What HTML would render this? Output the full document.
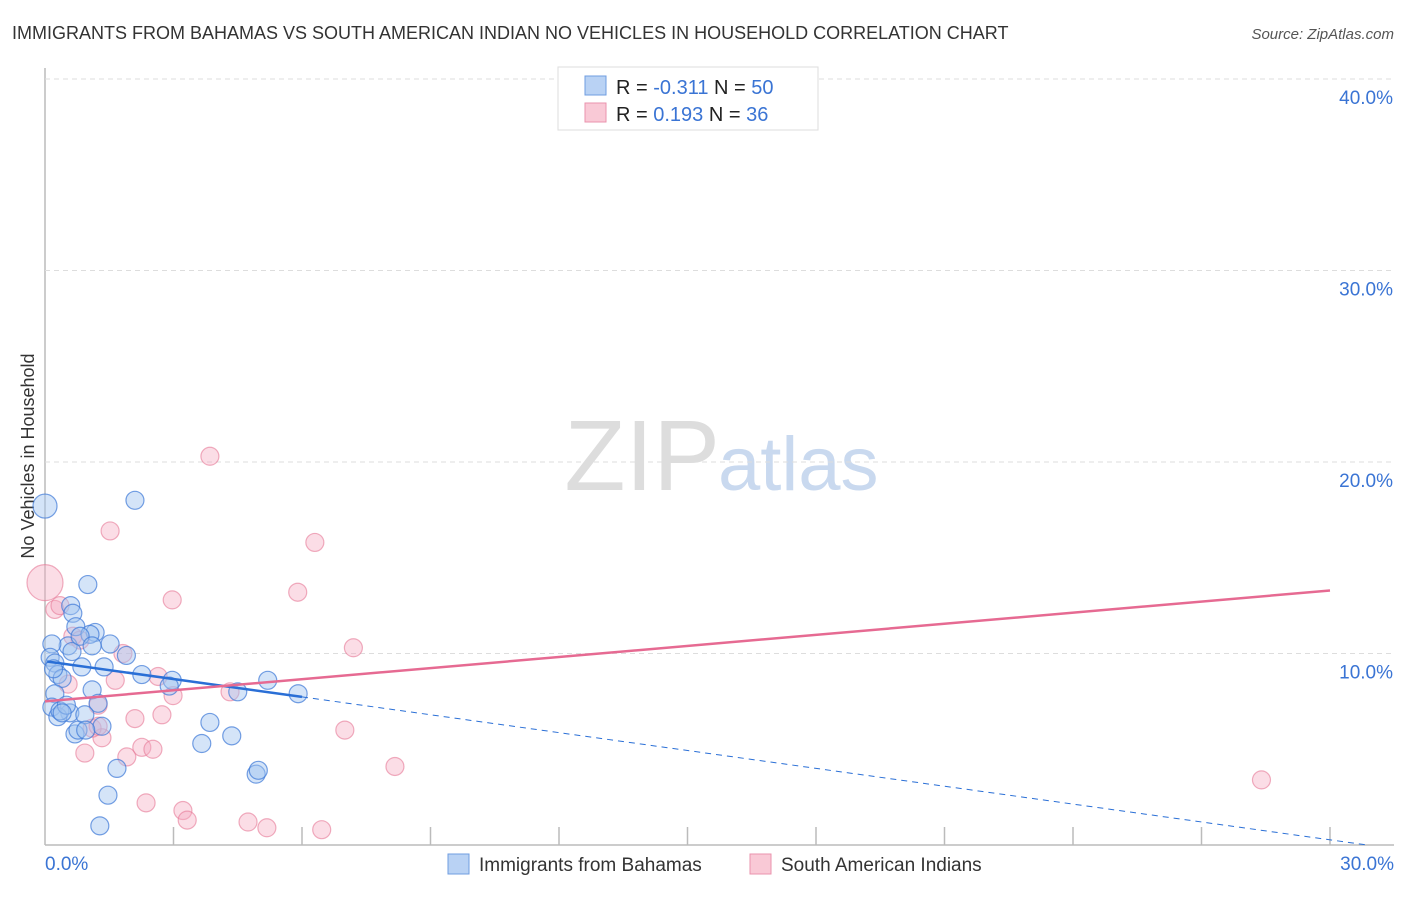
<!DOCTYPE html>
<html><head><meta charset="utf-8"><style>
body{margin:0;background:#fff;font-family:"Liberation Sans",sans-serif}
svg text{font-family:"Liberation Sans",sans-serif}
</style></head><body>
<svg id="c" width="1406" height="892" xmlns="http://www.w3.org/2000/svg">
<text x="12" y="39" font-size="18" fill="#333">IMMIGRANTS FROM BAHAMAS VS SOUTH AMERICAN INDIAN NO VEHICLES IN HOUSEHOLD CORRELATION CHART</text>
<text x="1394" y="39" font-size="15" fill="#555" font-style="italic" text-anchor="end">Source: ZipAtlas.com</text>
<text x="720" y="490" font-size="100" fill="#ddd" text-anchor="end" font-family="Liberation Serif">ZIP</text>
<text x="718" y="490" font-size="76" fill="#c9d9ef">atlas</text>
<text transform="translate(34,456) rotate(-90)" font-size="18" fill="#333" text-anchor="middle">No Vehicles in Household</text>
<g id="grid"></g><g id="pts"></g><g id="lines"></g>
<rect x="558" y="67" width="260" height="63" fill="#fff" stroke="#ddd"/>
<rect x="585" y="76" width="21" height="19" fill="#b9d2f4" stroke="#6f9de0"/>
<rect x="585" y="103" width="21" height="19" fill="#f9c9d6" stroke="#ea93ad"/>
<text x="616" y="94" font-size="20" fill="#222">R = <tspan fill="#3a74d4">-0.311</tspan>   N = <tspan fill="#3a74d4">50</tspan></text>
<text x="616" y="121" font-size="20" fill="#222">R =  <tspan fill="#3a74d4">0.193</tspan>   N = <tspan fill="#3a74d4">36</tspan></text>
<rect x="448" y="854" width="21" height="20" fill="#b9d2f4" stroke="#6f9de0"/>
<text x="479" y="871" font-size="19" fill="#333">Immigrants from Bahamas</text>
<rect x="750" y="854" width="21" height="20" fill="#f9c9d6" stroke="#ea93ad"/>
<text x="781" y="871" font-size="19" fill="#333">South American Indians</text>
</svg>
<script>
const yTicks=[10,20,30,40];
const xTickLabels=["0.0%","30.0%"];
const blueX=[0,2.1,1.0,0.6,0.65,0.72,1.17,1.05,1.52,0.54,0.16,0.63,0.12,0.23,0.3,0.4,0.86,1.38,2.26,2.97,1.1,0.23,1.24,0.16,0.58,0.3,0.93,1.33,0.7,0.77,3.85,4.36,3.66,5.2,5.91,4.5,4.93,4.98,1.68,1.47,1.28,0.35,0.82,0.5,0.95,1.9,0.2,0.4,1.1,2.9];
const blueY=[17.7,18.0,13.6,12.5,12.1,11.4,11.1,11.0,10.5,10.4,10.5,10.1,9.8,9.5,8.9,8.7,9.3,9.3,8.9,8.6,8.1,7.9,7.4,7.2,6.9,6.7,6.8,6.2,5.8,6.0,6.4,5.7,5.3,8.6,7.9,8.0,3.7,3.9,4.0,2.6,1.0,7.0,10.9,7.3,6.0,9.9,9.2,6.9,10.4,8.3];
const blueR=[12,9,9,9,9,9,9,9,9,9,9,9,9,9,9,9,9,9,9,9,9,9,9,9,9,9,9,9,9,9,9,9,9,9,9,9,9,9,9,9,9,9,9,9,9,9,9,9,9,9];
const pinkX=[0,0.23,0.35,1.52,3.85,6.3,5.9,2.97,7.2,0.65,1.82,2.64,1.64,0.54,1.24,2.1,2.73,4.32,2.99,0.93,1.33,1.91,2.26,2.52,7.0,8.17,28.4,2.36,3.22,3.32,4.74,5.18,6.46,1.1,1.24,0.82];
const pinkY=[13.7,12.3,12.5,16.4,20.3,15.8,13.2,12.8,10.3,10.9,10.0,8.8,8.6,8.4,7.3,6.6,6.8,8.0,7.8,4.8,5.6,4.6,5.1,5.0,6.0,4.1,3.4,2.2,1.8,1.3,1.2,0.9,0.8,6.1,6.2,10.7];
const pinkR=[18,9,9,9,9,9,9,9,9,9,9,9,9,9,9,9,9,9,9,9,9,9,9,9,9,9,9,9,9,9,9,9,9,9,9,9];
const blueTrend=[9.6,-0.311];
const pinkTrend=[7.5,0.193];
const X0=45,X1=1330,Y0=845,Y40=79;
const sx=v=>X0+(X1-X0)*v/30, sy=v=>Y0-(Y0-Y40)*v/40;
const NS="http://www.w3.org/2000/svg";
function mk(t,a,p){const e=document.createElementNS(NS,t);for(const k in a)e.setAttribute(k,a[k]);document.getElementById(p).appendChild(e);return e;}
const g='grid';
let ax=mk('line',{x1:X0,y1:68,x2:X0,y2:Y0,stroke:'#bbb','stroke-width':1.5},g);


let bx=mk('line',{x1:X0,y1:Y0,x2:1394,y2:Y0,stroke:'#bbb','stroke-width':1.5},g);


yTicks.forEach(t=>{
 const l=mk('line',{x1:X0,x2:1394,y1:sy(t),y2:sy(t),stroke:'#ddd','stroke-dasharray':'5,4'},g);
 
 
 const tx=mk('text',{x:1393,y:sy(t)+25,'font-size':19,fill:'#3a74d4','text-anchor':'end'},g);
 tx.textContent=t.toFixed(1)+'%';
 
 
});
for(let i=1;i<=10;i++){const l=mk('line',{x1:sx(i*3),x2:sx(i*3),y1:Y0-18,y2:Y0,stroke:'#bbb','stroke-width':1.5},g);
 
 }
[[0,'start',xTickLabels[0]],[30,'end',xTickLabels[1]]].forEach(([v,a,s])=>{
 const t=mk('text',{x:v==0?45:1394,y:870,'font-size':19,fill:'#3a74d4','text-anchor':a},g);t.textContent=s;
 
 });
pinkX.forEach((x,i)=>{const c=mk('circle',{cx:sx(x),cy:sy(pinkY[i]),r:pinkR[i],fill:'rgba(245,170,192,0.4)',stroke:'rgba(230,120,150,0.6)','stroke-width':1.2},'pts');
 
 });
blueX.forEach((x,i)=>{const c=mk('circle',{cx:sx(x),cy:sy(blueY[i]),r:blueR[i],fill:'rgba(160,195,240,0.45)',stroke:'rgba(60,120,215,0.7)','stroke-width':1.2},'pts');
 
 });
const bf=x=>blueTrend[0]+blueTrend[1]*x, pf=x=>pinkTrend[0]+pinkTrend[1]*x;
let l1=mk('line',{x1:sx(0.05),y1:sy(bf(0.05)),x2:sx(6),y2:sy(bf(6)),stroke:'#2a6fd6','stroke-width':2.5},'lines');


const xe=blueTrend[0]/-blueTrend[1];
let l2=mk('line',{x1:sx(6),y1:sy(bf(6)),x2:sx(xe),y2:sy(0),stroke:'#2a6fd6','stroke-width':1,'stroke-dasharray':'6,5'},'lines');


let l3=mk('line',{x1:sx(0),y1:sy(pf(0)),x2:sx(30),y2:sy(pf(30)),stroke:'#e66a92','stroke-width':2.5},'lines');


</script>
</body></html>
